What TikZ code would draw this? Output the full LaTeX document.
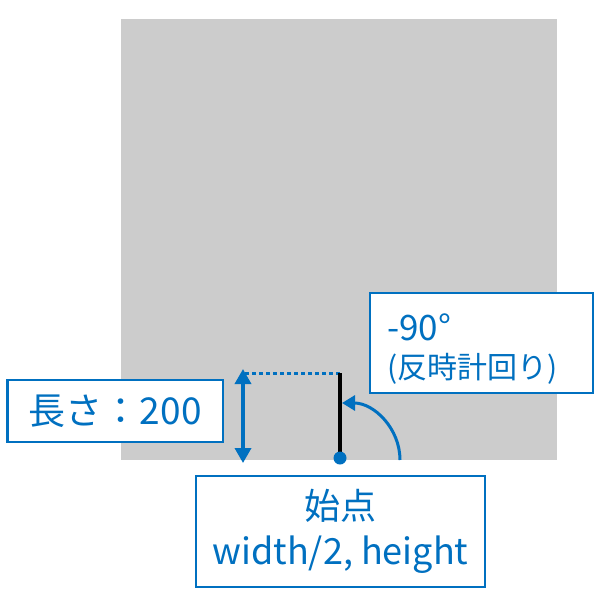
\documentclass[tikz,border=0pt]{standalone}
\usepackage{fontspec}
\setmainfont{Noto Sans CJK JP}
\usetikzlibrary{arrows.meta}
\definecolor{myblue}{HTML}{0070C0}
\definecolor{mygray}{HTML}{CCCCCC}
\tikzset{
  infobox/.style={draw=myblue, line width=2.5pt, fill=white, rectangle, text=myblue, inner sep=0pt},
  blueline/.style={draw=myblue, line width=3.5pt},
}
\begin{document}
\begin{tikzpicture}[x=1pt,y=-1pt]
\useasboundingbox (0,0) rectangle (599,595);
\fill[mygray] (121,19) rectangle (557,460);
% dotted guide
\coordinate (dotL) at (245,373);
\coordinate (dotR) at (340,373);
\draw[myblue, line width=3pt, dash pattern=on 4pt off 3pt] (dotL) -- (dotR);
% double arrow
\coordinate (dtop) at (243,369);
\coordinate (dbot) at (243,463);
\draw[blueline, {Triangle[length=15pt,width=16pt]}-{Triangle[length=15pt,width=16pt]}] (dtop) -- (dbot);
% black line
\coordinate (ltop) at (340,373);
\coordinate (lbot) at (340,458);
\draw[black, line width=4.5pt] (lbot) -- (ltop);
\fill[myblue] (lbot) circle (6.5);
% arc
\coordinate (astart) at (400,460);
\draw[myblue, line width=3pt, -{Triangle[length=13pt,width=15pt]}] (astart) arc[start angle=0, end angle=-90, x radius=58, y radius=57];
% boxes
\node[infobox, minimum width=215.5pt, minimum height=62pt, font=\fontsize{37}{44}\selectfont] (len) at (115.25,411) {長さ：200};
\node[infobox, text width=189pt, inner xsep=17pt, minimum height=100pt, align=left, font=\fontsize{35}{41}\selectfont] (ang) at (481.5,343) {\rule{0pt}{38pt}-90°\\[-3pt]{\fontsize{30}{30}\selectfont (反時計回り)}};
\node[infobox, minimum width=289pt, minimum height=111pt, align=center, font=\fontsize{36}{45}\selectfont] (start) at (340.5,531.5) {始点\\width/2, height};
\end{tikzpicture}
\end{document}
